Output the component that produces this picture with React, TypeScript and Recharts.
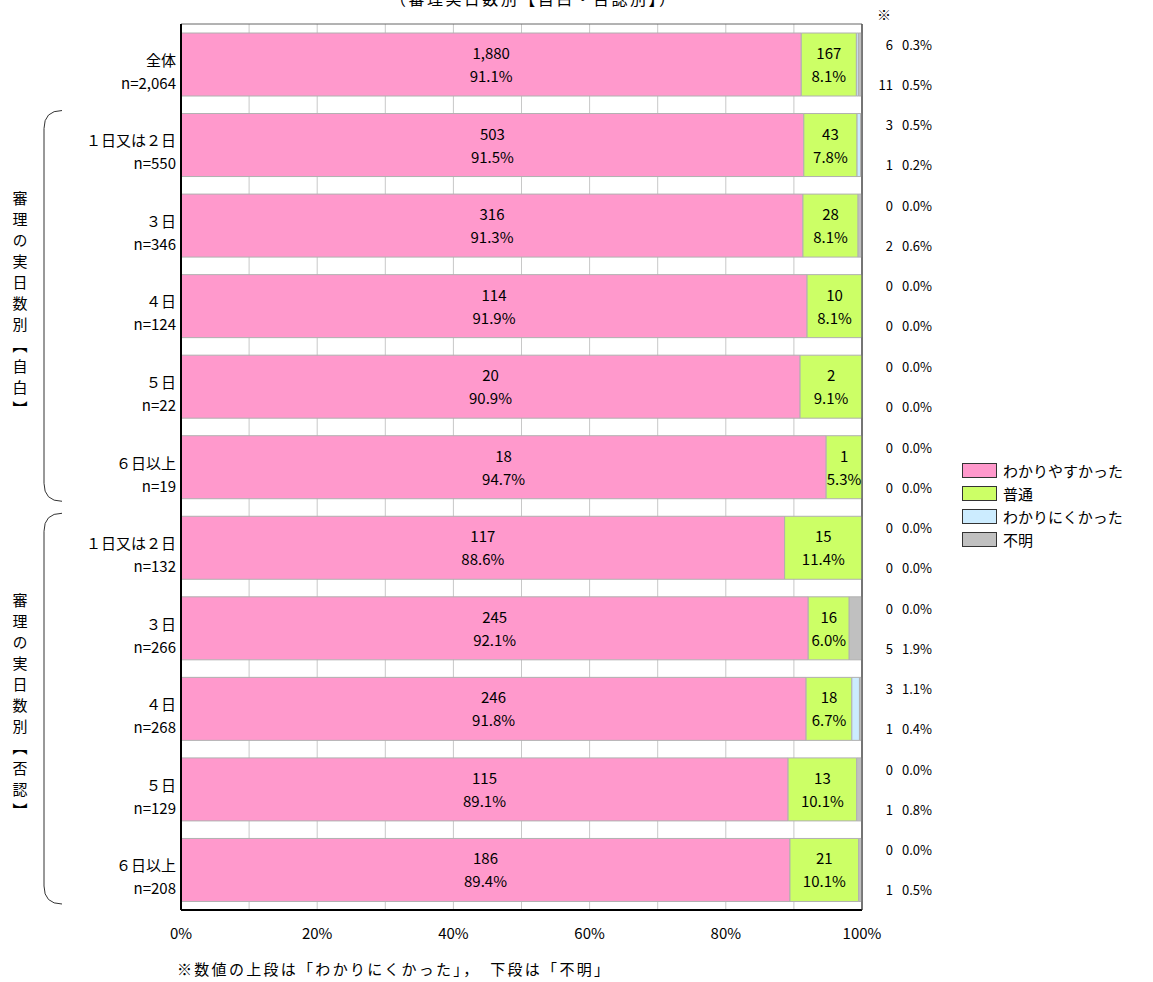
import {
  BarChart,
  Bar,
  XAxis,
  YAxis,
  CartesianGrid,
  Legend,
  LabelList,
  ReferenceArea,
  Customized,
} from "recharts";

const categories = ["全体", "１日又は２日", "３日", "４日", "５日", "６日以上", "１日又は２日", "３日", "４日", "５日", "６日以上"];
const sampleSizes = ["2,064", "550", "346", "124", "22", "19", "132", "266", "268", "129", "208"];

const easyCounts = [1880, 503, 316, 114, 20, 18, 117, 245, 246, 115, 186];
const normalCounts = [167, 43, 28, 10, 2, 1, 15, 16, 18, 13, 21];
const hardCounts = [6, 3, 0, 0, 0, 0, 0, 0, 3, 0, 0];
const unknownCounts = [11, 1, 2, 0, 0, 0, 0, 5, 1, 1, 1];

const easyPct = ["91.1", "91.5", "91.3", "91.9", "90.9", "94.7", "88.6", "92.1", "91.8", "89.1", "89.4"];
const normalPct = ["8.1", "7.8", "8.1", "8.1", "9.1", "5.3", "11.4", "6.0", "6.7", "10.1", "10.1"];
const hardPct = ["0.3", "0.5", "0.0", "0.0", "0.0", "0.0", "0.0", "0.0", "1.1", "0.0", "0.0"];
const unknownPct = ["0.5", "0.2", "0.6", "0.0", "0.0", "0.0", "0.0", "1.9", "0.4", "0.8", "0.5"];

const xTicks = [0, 0.2, 0.4, 0.6, 0.8, 1];

const seriesNames = ["わかりやすかった", "普通", "わかりにくかった", "不明"];
const seriesColors = ["#FF99CC", "#CCFF66", "#CCECFF", "#C0C0C0"];

const FONT = "'Noto Sans CJK JP', 'Noto Sans', sans-serif";

const data = categories.map((c, i) => ({
  id: "c" + i,
  easy: easyCounts[i],
  normal: normalCounts[i],
  hard: hardCounts[i],
  unknown: unknownCounts[i],
}));

// layout
const W = 1153;
const H = 982;
const TOP = 24;
const BOTTOM = 910;
const LEFT = 181;
const RIGHT = 862;
const SIDE_W = 80;

function YTick(props: any) {
  const { x, y, index } = props;
  return (
    <g fontFamily={FONT} fontSize={15} fill="#000">
      <text x={x + 3} y={y - 5} textAnchor="end" dominantBaseline="central">
        {categories[index]}
      </text>
      <text x={x + 3} y={y + 18} textAnchor="end" dominantBaseline="central">
        {"n=" + sampleSizes[index]}
      </text>
    </g>
  );
}

// right-side values: upper = わかりにくかった, lower = 不明
function SideTick(props: any) {
  const { x, y, index } = props;
  return (
    <g fontFamily={FONT} fontSize={13} fill="#000">
      <text x={x + 31} y={y - 20} textAnchor="end" dominantBaseline="central">
        {hardCounts[index]}
      </text>
      <text x={x + 40} y={y - 20} textAnchor="start" dominantBaseline="central">
        {hardPct[index] + "%"}
      </text>
      <text x={x + 31} y={y + 20} textAnchor="end" dominantBaseline="central">
        {unknownCounts[index]}
      </text>
      <text x={x + 40} y={y + 20} textAnchor="start" dominantBaseline="central">
        {unknownPct[index] + "%"}
      </text>
    </g>
  );
}

function segLabel(counts: number[], pcts: string[]) {
  return (props: any) => {
    const { x, y, width, height, index } = props;
    const cx = x + width / 2;
    const cy = y + height / 2;
    return (
      <g fontFamily={FONT} fontSize={15} fill="#000">
        <text x={cx} y={cy - 12} textAnchor="middle" dominantBaseline="central">
          {counts[index].toLocaleString("en-US")}
        </text>
        <text x={cx} y={cy + 11} textAnchor="middle" dominantBaseline="central">
          {pcts[index] + "%"}
        </text>
      </g>
    );
  };
}

function LegendBox() {
  return (
    <div style={{ fontFamily: FONT, fontSize: 15, color: "#000" }}>
      {seriesNames.map((n, i) => (
        <div key={n} style={{ display: "flex", alignItems: "center", height: 23 }}>
          <span
            style={{
              display: "inline-block",
              width: 33,
              height: 13,
              background: seriesColors[i],
              border: "1px solid #333",
              marginRight: 6,
            }}
          />
          <span>{n}</span>
        </div>
      ))}
    </div>
  );
}

function Decorations() {
  const band = (BOTTOM - TOP) / categories.length;
  const bracket = (from: number, to: number) => {
    const y1 = TOP + band * from + 6;
    const y2 = TOP + band * (to + 1) - 6;
    return `M 62 ${y1} Q 44 ${y1} 44 ${y1 + 18} L 44 ${y2 - 18} Q 44 ${y2} 62 ${y2}`;
  };
  const mid1 = TOP + band * 3.5;
  const mid2 = TOP + band * 8.5;
  return (
    <g fontFamily={FONT} fill="#000">
      <text x={390} y={5} fontSize={16} textLength={285} lengthAdjust="spacing">
        （審理実日数別【自白・否認別】）
      </text>
      <text x={884} y={14} textAnchor="middle" dominantBaseline="central" fontSize={14}>
        ※
      </text>
      <path d={bracket(1, 5)} fill="none" stroke="#333" strokeWidth={1} />
      <path d={bracket(6, 10)} fill="none" stroke="#333" strokeWidth={1} />
      <text
        x={20}
        y={mid1}
        textAnchor="middle"
        fontSize={15}
        letterSpacing={6}
        style={{ writingMode: "vertical-rl" }}
      >
        審理の実日数別【自白】
      </text>
      <text
        x={20}
        y={mid2}
        textAnchor="middle"
        fontSize={15}
        letterSpacing={6}
        style={{ writingMode: "vertical-rl" }}
      >
        審理の実日数別【否認】
      </text>
      <text x={177} y={975} fontSize={15} textLength={432} lengthAdjust="spacing">
        ※数値の上段は「わかりにくかった」，　下段は「不明」
      </text>
    </g>
  );
}

export default function App() {
  return (
    <div style={{ position: "absolute", left: 0, top: 0, width: W, height: H, background: "#fff" }}>
      <BarChart
        width={W}
        height={H}
        data={data}
        layout="vertical"
        stackOffset="expand"
        barSize={63}
        margin={{ top: TOP, right: W - RIGHT - SIDE_W, bottom: H - BOTTOM - 30, left: 0 }}
      >
        <CartesianGrid
          horizontal={false}
          stroke="#C8C8C8"
          verticalCoordinatesGenerator={({ offset }: any) =>
            Array.from({ length: 11 }, (_, i) => offset.left + (offset.width * i) / 10)
          }
        />
        <XAxis
          type="number"
          domain={[0, 1]}
          ticks={xTicks}
          tickFormatter={(v: number) => Math.round(v * 100) + "%"}
          axisLine={{ stroke: "#000", strokeWidth: 2 }}
          tickLine={false}
          tickMargin={12}
          height={30}
          tick={{ fontSize: 15, fill: "#000", fontFamily: FONT }}
        />
        <YAxis
          type="category"
          dataKey="id"
          width={LEFT}
          axisLine={{ stroke: "#000", strokeWidth: 2 }}
          tickLine={false}
          tick={<YTick />}
          interval={0}
        />
        <YAxis
          yAxisId="side"
          orientation="right"
          type="category"
          dataKey="id"
          width={SIDE_W}
          axisLine={{ stroke: "#444", strokeWidth: 1 }}
          tickLine={false}
          tickSize={0}
          tickMargin={0}
          tick={<SideTick />}
          interval={0}
        />
        <ReferenceArea x1={0} x2={1} fill="none" stroke="#666" strokeWidth={1} ifOverflow="visible" />
        <Bar dataKey="easy" stackId="a" fill={seriesColors[0]} stroke="#B0B0B0" isAnimationActive={false}>
          <LabelList content={segLabel(easyCounts, easyPct)} />
        </Bar>
        <Bar dataKey="normal" stackId="a" fill={seriesColors[1]} stroke="#B0B0B0" isAnimationActive={false}>
          <LabelList content={segLabel(normalCounts, normalPct)} />
        </Bar>
        <Bar dataKey="hard" stackId="a" fill={seriesColors[2]} stroke="#B0B0B0" isAnimationActive={false} />
        <Bar dataKey="unknown" stackId="a" fill={seriesColors[3]} stroke="#B0B0B0" isAnimationActive={false} />
        <Legend
          layout="horizontal"
          align="center"
          verticalAlign="middle"
          content={<LegendBox />}
          wrapperStyle={{ left: 962, top: 459, width: 191 }}
        />
        <Customized component={<Decorations />} />
      </BarChart>
    </div>
  );
}
